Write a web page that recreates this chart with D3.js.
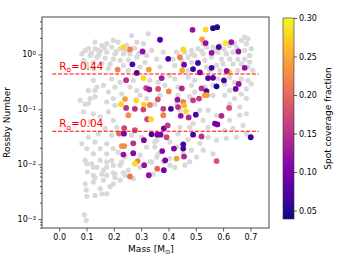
<!DOCTYPE html>
<html>
<head>
<meta charset="utf-8">
<script src="https://cdn.jsdelivr.net/npm/d3@7"></script>
<style>
  body { margin: 0; background: #fff; }
  text { font-family: "DejaVu Sans", sans-serif; }
</style>
</head>
<body>
<script>
const width = 339,
      height = 257;

// full sample (grey)
const grayMass = [
  0.265,0.326,0.198,0.216,0.174,0.156,0.192,0.223,0.247,0.284,
  0.308,0.131,0.150,0.174,0.204,0.235,0.259,0.284,0.320,0.338,
  0.095,0.113,0.138,0.168,0.198,0.223,0.253,0.089,0.125,0.156,
  0.186,0.235,0.314,0.357,0.381,0.101,0.180,0.253,0.296,0.369,
  0.125,0.192,0.223,0.271,0.362,0.162,0.204,0.259,0.284,0.131,
  0.180,0.229,0.296,0.113,0.198,0.320,0.679,0.691,0.667,0.642,
  0.624,0.588,0.563,0.539,0.508,0.484,0.460,0.430,0.685,0.703,
  0.679,0.636,0.612,0.581,0.527,0.496,0.472,0.417,0.697,0.679,
  0.654,0.624,0.594,0.557,0.533,0.484,0.448,0.697,0.667,0.636,
  0.600,0.576,0.539,0.423,0.472,0.691,0.654,0.709,0.588,0.551,
  0.423,0.472,0.496,0.581,0.624,0.667,0.691,0.703,0.642,0.606,
  0.563,0.533,0.484,0.435,0.685,0.624,0.496,0.563,0.606,0.667,
  0.435,0.478,0.685,0.642,0.527,0.624,0.661,0.685,0.661,0.624,
  0.576,0.545,0.527,0.490,0.636,0.673,0.606,0.545,0.685,0.649,
  0.612,0.576,0.545,0.515,0.484,0.527,0.563,0.472,0.435,0.405,
  0.430,0.454,0.405,0.503,0.478,0.350,0.357,0.423,0.460,0.381,
  0.405,0.332,0.357,0.350,0.430,0.515,0.478,0.442,0.442,0.077,
  0.107,0.131,0.174,0.204,0.089,0.125,0.180,0.150,0.113,0.198,
  0.211,0.168,0.143,0.107,0.192,0.083,0.131,0.174,0.101,0.150,
  0.198,0.125,0.174,0.216,0.095,0.150,0.192,0.241,0.125,0.174,
  0.223,0.156,0.204,0.253,0.296,0.338,0.296,0.320,0.362,0.302,
  0.350,0.265,0.344,0.271,0.101,0.138,0.174,0.198,0.229,0.162,
  0.125,0.174,0.198,0.204,0.235,0.241,0.095,0.125,0.162,0.198,
  0.223,0.099,0.150,0.186,0.131,0.156,0.174,0.101,0.092,0.099,
  0.083,0.107,0.131,0.101,0.125,0.107,0.138,0.095,0.119,0.103,
  0.131,0.387,0.405,0.369,0.332,0.118,0.143,0.165,0.208,0.145,
  0.240,0.276,0.292,0.603,0.570,0.650,0.521,0.487
];
const grayRossby = [
  2.21,2.37,1.80,1.68,1.57,1.46,1.36,1.27,1.46,1.68,
  1.57,1.27,1.15,1.10,1.02,1.02,1.02,0.89,0.96,1.18,
  1.18,0.96,0.89,0.86,0.82,0.78,0.80,0.78,0.72,0.69,
  0.67,0.63,0.72,0.82,1.10,0.59,0.55,0.51,0.59,0.59,
  0.337,0.36,0.31,0.337,0.31,0.273,0.254,0.254,0.221,0.221,
  0.206,0.19,0.18,0.157,0.157,0.157,2.06,1.92,1.80,1.57,
  1.46,1.46,1.36,1.36,1.27,1.18,1.10,1.10,1.57,1.27,
  1.18,1.10,1.02,1.10,1.02,0.96,0.89,0.82,0.96,0.82,
  0.82,0.82,0.82,0.89,0.78,0.72,0.80,0.72,0.67,0.67,
  0.67,0.63,0.59,0.63,0.51,0.59,0.51,0.51,0.51,0.51,
  0.36,0.385,0.337,0.36,0.385,0.36,0.337,0.29,0.31,0.29,
  0.273,0.254,0.273,0.254,0.235,0.221,0.206,0.18,0.18,0.19,
  0.18,0.17,0.157,0.157,1.57,0.124,0.11,0.083,0.078,0.063,
  0.078,0.096,0.063,0.055,0.045,0.051,0.0416,0.047,0.036,0.031,
  0.0296,0.0274,0.031,0.024,0.018,0.018,0.0155,0.028,0.036,0.0255,
  0.0205,0.0155,0.0127,0.0135,0.011,0.0205,0.0135,0.0088,0.0096,0.011,
  0.0096,0.011,0.0274,0.124,0.124,0.096,0.047,0.047,0.096,0.146,
  0.127,0.17,0.137,0.118,0.09,0.083,0.09,0.073,0.059,0.063,
  0.047,0.045,0.036,0.031,0.0338,0.0235,0.0255,0.0235,0.0193,0.0193,
  0.0193,0.0155,0.0155,0.0165,0.0118,0.0118,0.0118,0.0135,0.0088,0.0088,
  0.0096,0.0066,0.0066,0.0078,0.0088,0.011,0.0146,0.0205,0.0155,0.031,
  0.0255,0.0338,0.0066,0.0055,0.0102,0.0088,0.011,0.0096,0.011,0.0078,
  0.0063,0.0063,0.007,0.0057,0.007,0.0063,0.0044,0.0047,0.0051,0.0044,
  0.0051,0.0034,0.0036,0.0039,0.0027,0.0029,0.0029,0.0026,0.0012,0.00095,
  1.02,1.27,1.68,0.67,0.55,0.221,0.254,0.124,0.0102,0.0073,
  0.0057,0.273,0.415,0.18,0.337,1.05,1.20,1.32,1.12,0.98,
  1.15,1.30,1.05,1.25,1.20,1.32,1.15,1.02
];

// stars with spot measurements (coloured)
const spotMass = [
  0.235,0.259,0.305,0.369,0.268,0.214,0.284,0.328,0.245,0.308,
  0.318,0.330,0.362,0.241,0.282,0.310,0.332,0.245,0.277,0.361,
  0.488,0.536,0.563,0.578,0.523,0.536,0.584,0.609,0.630,0.454,
  0.558,0.656,0.442,0.399,0.457,0.508,0.490,0.515,0.450,0.558,
  0.622,0.613,0.679,0.545,0.563,0.375,0.603,0.657,0.576,0.646,
  0.449,0.521,0.539,0.541,0.533,0.401,0.512,0.433,0.490,0.454,
  0.457,0.435,0.381,0.409,0.622,0.226,0.253,0.308,0.322,0.238,
  0.277,0.219,0.237,0.338,0.359,0.371,0.310,0.229,0.238,0.271,
  0.235,0.271,0.287,0.277,0.311,0.359,0.259,0.328,0.381,0.464,
  0.445,0.474,0.500,0.594,0.570,0.579,0.336,0.383,0.397,0.393,
  0.490,0.521,0.701,0.454,0.454,0.420,0.457,0.377,0.388,0.430,
  0.383,0.576
];
const spotRossby = [
  1.36,1.23,1.13,1.85,0.66,0.53,0.46,0.53,0.34,0.37,
  0.244,0.23,0.235,0.154,0.146,0.123,0.12,0.106,0.102,0.152,
  2.8,2.83,3.0,3.13,1.88,1.61,1.36,1.61,1.68,1.23,
  1.07,1.13,0.89,0.83,0.65,0.70,0.54,0.47,0.51,0.57,
  0.48,0.50,0.57,0.37,0.375,0.37,0.337,0.29,0.262,0.235,
  0.24,0.24,0.215,0.182,0.18,0.212,0.157,0.15,0.146,0.137,
  0.118,0.11,0.102,0.102,0.106,0.124,0.078,0.099,0.066,0.0455,
  0.0416,0.0362,0.036,0.035,0.0346,0.0346,0.0274,0.0214,0.0214,0.024,
  0.015,0.0159,0.0114,0.0102,0.0096,0.0083,0.006,0.0063,0.078,0.092,
  0.076,0.071,0.08,0.076,0.055,0.053,0.066,0.045,0.051,0.031,
  0.0346,0.032,0.031,0.023,0.0193,0.0193,0.0138,0.0174,0.0118,0.0127,
  0.0078,0.0114
];
const spotFrac = [
  0.28,0.22,0.12,0.07,0.07,0.22,0.07,0.24,0.15,0.28,
  0.16,0.12,0.18,0.24,0.28,0.28,0.22,0.15,0.15,0.18,
  0.12,0.28,0.05,0.05,0.24,0.12,0.07,0.29,0.12,0.28,
  0.12,0.12,0.22,0.07,0.10,0.07,0.06,0.10,0.25,0.07,
  0.28,0.12,0.12,0.08,0.08,0.13,0.07,0.12,0.05,0.10,
  0.14,0.15,0.07,0.24,0.24,0.22,0.16,0.12,0.16,0.22,
  0.26,0.15,0.16,0.07,0.18,0.28,0.23,0.17,0.17,0.17,
  0.17,0.20,0.10,0.07,0.10,0.10,0.11,0.23,0.23,0.15,
  0.12,0.11,0.22,0.28,0.12,0.20,0.21,0.12,0.22,0.28,
  0.12,0.14,0.07,0.14,0.10,0.10,0.28,0.10,0.16,0.17,
  0.07,0.15,0.06,0.07,0.07,0.11,0.14,0.11,0.10,0.24,
  0.10,0.18
];

const thresholds = [0.44, 0.04];
const thresholdLabels = ["0.44", "0.04"];
const xTicks = [0.0, 0.1, 0.2, 0.3, 0.4, 0.5, 0.6, 0.7];
const yTicks = [1e-3, 1e-2, 1e-1, 1];
const cbTicks = [0.05, 0.10, 0.15, 0.20, 0.25, 0.30];
const fracMin = 0.039, fracMax = 0.30;

const plot = {left: 42, right: 269, top: 17, bottom: 228};

const x = d3.scaleLinear()
      .domain([-0.063, 0.768])
      .range([plot.left, plot.right]);

const y = d3.scaleLog()
      .domain([6.9e-4, 4.8])
      .range([plot.bottom, plot.top]);

const color = (v) => d3.interpolatePlasma(Math.max(0, Math.min(1, (v - fracMin) / (fracMax - fracMin))));

const svg = d3.select("body")
  .append("svg")
  .attr("width", width)
  .attr("height", height);

/* ------------- POINTS ------------ */

svg.append("g")
  .selectAll("circle")
  .data(d3.range(grayMass.length))
  .join("circle")
  .attr("cx", (i) => x(grayMass[i]))
  .attr("cy", (i) => y(grayRossby[i]))
  .attr("r", 2.6)
  .attr("fill", "#d9d9d9");

svg.append("g")
  .selectAll("circle")
  .data(d3.range(spotMass.length))
  .join("circle")
  .attr("cx", (i) => x(spotMass[i]))
  .attr("cy", (i) => y(spotRossby[i]))
  .attr("r", 2.9)
  .attr("fill", (i) => color(spotFrac[i]));

/* ------------- THRESHOLDS ------------ */

thresholds.forEach((t, i) => {
  svg.append("line")
    .attr("x1", x(-0.025))
    .attr("x2", x(0.73))
    .attr("y1", y(t))
    .attr("y2", y(t))
    .attr("stroke", "red")
    .attr("stroke-width", 1.1)
    .attr("stroke-dasharray", "4,1.7");

  const label = svg.append("text")
    .attr("x", x(0))
    .attr("y", y(t) - 4)
    .attr("fill", "red")
    .attr("font-size", 10.5);
  label.append("tspan").text("R");
  label.append("tspan").attr("dy", 2.5).attr("font-size", 7.5).text("o");
  label.append("tspan").attr("dy", -2.5).text("=" + thresholdLabels[i]);
});

/* ------------- AXES ------------ */

svg.append("g")
  .attr("transform", `translate(0,${plot.bottom})`)
  .call(d3.axisBottom(x).tickValues(xTicks).tickFormat(d3.format(".1f")).tickSize(3.5).tickPadding(2.5));

const minor = [];
[-4, -3, -2, -1, 0].forEach((k) => {
  for (let m = 2; m <= 9; m++) {
    const v = m * Math.pow(10, k);
    if (v > y.domain()[0] && v < y.domain()[1]) minor.push(v);
  }
});

svg.append("g")
  .attr("transform", `translate(${plot.left},0)`)
  .call(d3.axisLeft(y).tickValues(minor).tickFormat("").tickSize(2));

const yAxis = svg.append("g")
  .attr("transform", `translate(${plot.left},0)`)
  .call(d3.axisLeft(y).tickValues(yTicks).tickSize(3.5).tickPadding(2.5));

yAxis.selectAll(".tick text")
  .each(function(d) {
    const k = Math.round(Math.log10(d));
    const t = d3.select(this).text(null);
    t.append("tspan").text("10");
    t.append("tspan")
      .attr("dy", "-0.45em")
      .attr("font-size", 5.6)
      .text(k === 0 ? "0" : "\u2212" + (-k));
  });

svg.selectAll(".domain").remove();
svg.selectAll(".tick line").attr("stroke", "#333").attr("stroke-width", 0.8);
svg.selectAll(".tick text")
  .attr("fill", "#000")
  .attr("font-size", 8)
  .attr("font-family", "DejaVu Sans, sans-serif");

svg.append("rect")
  .attr("x", plot.left)
  .attr("y", plot.top)
  .attr("width", plot.right - plot.left)
  .attr("height", plot.bottom - plot.top)
  .attr("fill", "none")
  .attr("stroke", "#333")
  .attr("stroke-width", 0.9);

const xLabel = svg.append("text")
  .attr("x", 151)
  .attr("y", 252)
  .attr("text-anchor", "middle")
  .attr("font-size", 9);
xLabel.append("tspan").text("Mass [M");
xLabel.append("tspan").attr("dy", 2).attr("font-size", 6.5).text("\u2299");
xLabel.append("tspan").attr("dy", -2).text("]");

svg.append("text")
  .attr("transform", `translate(10,${(plot.top + plot.bottom) / 2}) rotate(-90)`)
  .attr("text-anchor", "middle")
  .attr("font-size", 9)
  .text("Rossby Number");

/* ------------- COLORBAR ------------ */

const cb = {x: 283, w: 11, top: 18, bottom: 219};
const c = d3.scaleLinear()
  .domain([fracMin, fracMax])
  .range([cb.bottom, cb.top]);

const grad = svg.append("defs")
  .append("linearGradient")
  .attr("id", "cbgrad")
  .attr("x1", 0).attr("y1", 1)
  .attr("x2", 0).attr("y2", 0);

d3.range(0, 1.0001, 0.05).forEach((t) => {
  grad.append("stop")
    .attr("offset", t)
    .attr("stop-color", d3.interpolatePlasma(t));
});

svg.append("rect")
  .attr("x", cb.x)
  .attr("y", cb.top)
  .attr("width", cb.w)
  .attr("height", cb.bottom - cb.top)
  .attr("fill", "url(#cbgrad)")
  .attr("stroke", "#333")
  .attr("stroke-width", 0.6);

const cbAxis = svg.append("g")
  .attr("transform", `translate(${cb.x + cb.w},0)`)
  .call(d3.axisRight(c).tickValues(cbTicks).tickFormat(d3.format(".2f")).tickSize(3).tickPadding(2));

cbAxis.select(".domain").remove();
cbAxis.selectAll(".tick line").attr("stroke", "#333").attr("stroke-width", 0.8);
cbAxis.selectAll(".tick text")
  .attr("fill", "#000")
  .attr("font-size", 8)
  .attr("font-family", "DejaVu Sans, sans-serif");

svg.append("text")
  .attr("transform", `translate(331,${(cb.top + cb.bottom) / 2}) rotate(-90)`)
  .attr("text-anchor", "middle")
  .attr("font-size", 9)
  .text("Spot coverage fraction");
</script>
</body>
</html>
